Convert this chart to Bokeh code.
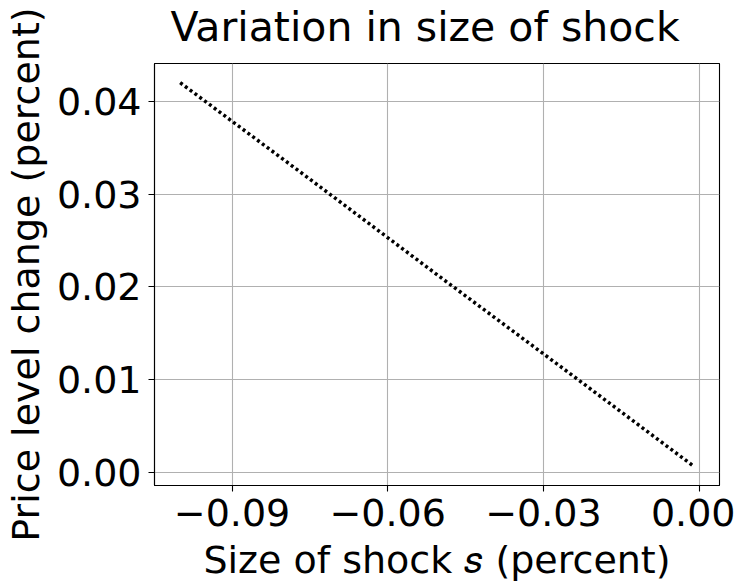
from bokeh.plotting import figure
from bokeh.models import Range1d, FixedTicker, CustomJSTickFormatter
from bokeh.embed import file_html
from bokeh.resources import INLINE

# ---- data ----
shock = [-0.100, -0.075, -0.050, -0.025, -0.001]
price_change = [0.0420, 0.0316, 0.0211, 0.0107, 0.00065]
x_ticks = [-0.09, -0.06, -0.03, 0.0]
y_ticks = [0.0, 0.01, 0.02, 0.03, 0.04]
title_text = "Variation in size of shock"
xlabel_text = "Size of shock \U0001D460 (percent)"
ylabel_text = "Price level change (percent)"

FONT = "DejaVu Sans"
FS = 38  # px

FW, FH = 565, 422
ML, MR, MT, MB = 147, 16, 40, 80

xmin, xmax = min(shock), max(shock)
ymin, ymax = min(price_change), max(price_change)
dx, dy = xmax - xmin, ymax - ymin
x0, x1 = xmin - 0.05 * dx, xmax + 0.05 * dx
y0, y1 = ymin - 0.05 * dy, ymax + 0.05 * dy

p = figure(frame_width=FW, frame_height=FH, output_backend="svg", toolbar_location=None,
           x_range=Range1d(x0, x1), y_range=Range1d(y0, y1),
           min_border_left=ML, min_border_right=MR, min_border_top=MT, min_border_bottom=MB)
p.margin = (-12, 0, 0, 0)

p.title.text = title_text
p.title.text_font = FONT
p.title.text_font_size = "41px"
p.title.text_font_style = "normal"
p.title.align = "left"
p.title.offset = 16
p.title.standoff = 25
p.title.text_color = "black"

p.background_fill_color = "white"
p.border_fill_color = "white"
p.outline_line_color = "black"
p.outline_line_width = 1.1
p.outline_line_alpha = 1.0

fmt = CustomJSTickFormatter(code="""
const s = Math.abs(tick).toFixed(2);
return (tick < -1e-12 ? "\u2212" : "") + s;
""")

for ax in (p.xaxis[0], p.yaxis[0]):
    ax.major_label_text_font = FONT
    ax.major_label_text_font_size = f"{FS}px"
    ax.major_label_text_color = "black"
    ax.axis_line_color = "black"
    ax.axis_line_width = 1.1
    ax.major_tick_line_color = "black"
    ax.major_tick_line_width = 1.1
    ax.major_tick_out = 6
    ax.major_tick_in = 0
    ax.minor_tick_line_color = None
    ax.formatter = fmt
    ax.axis_label_text_font = FONT
    ax.axis_label_text_font_size = f"{FS}px"
    ax.axis_label_text_font_style = "normal"
    ax.axis_label_text_color = "black"

p.xaxis[0].ticker = FixedTicker(ticks=x_ticks)
p.yaxis[0].ticker = FixedTicker(ticks=y_ticks)
p.xaxis[0].major_label_standoff = 7
p.yaxis[0].major_label_standoff = 7

p.yaxis[0].axis_label = ylabel_text
p.yaxis[0].axis_label_standoff = 6
p.xaxis[0].axis_label = xlabel_text
p.xaxis[0].axis_label_standoff = 9

p.xgrid.ticker = FixedTicker(ticks=x_ticks)
p.ygrid.ticker = FixedTicker(ticks=y_ticks)
for g in (p.xgrid[0], p.ygrid[0]):
    g.grid_line_color = "#b0b0b0"
    g.grid_line_width = 1.1

p.line(shock, price_change, line_color="black", line_width=3.5,
       line_dash="3 3", line_cap="butt")

open("out.html", "w").write(file_html(p, INLINE))
